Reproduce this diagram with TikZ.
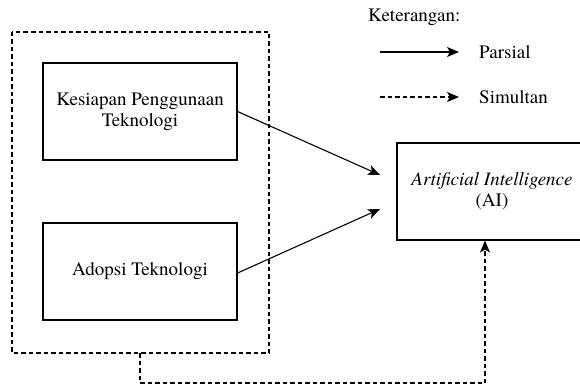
\documentclass[tikz,border=0pt]{standalone}
\usepackage{fontspec}
\setmainfont{TeX Gyre Termes}
\usetikzlibrary{arrows.meta}
\begin{document}
\begin{tikzpicture}[x=1pt,y=-1pt,
  every node/.style={font=\fontsize{19}{21}\selectfont},
  boxstyle/.style={draw, line width=1.1pt, minimum width=194pt, minimum height=97pt, align=center, inner sep=0pt},
  tip/.style={-{Stealth[length=12pt,width=10pt,inset=3pt]}},
  conn/.style={line width=1.1pt, tip},
  dsh/.style={line width=1.1pt, dash pattern=on 4.5pt off 3pt}
]
\useasboundingbox (0,0) rectangle (580,385);
\draw[dsh] (12,32) rectangle (269,353);
\coordinate (outerbot) at (140,353);
\node[boxstyle] (kpt) at (140,111.5) {Kesiapan Penggunaan\\Teknologi};
\node[boxstyle] (adt) at (140,271.5) {Adopsi Teknologi};
\node[boxstyle, minimum width=190pt] (ai) at (492,191.5) {\textit{Artificial Intelligence}\\(AI)};
\coordinate (t1) at (380,175);
\coordinate (t2) at (380,209);
\draw[conn] (kpt.east) -- (t1);
\draw[conn] ([yshift=-1.5pt]adt.east) -- (t2);
\coordinate (c1) at (140,383);
\coordinate (c2) at (485,383);
\draw[dsh, tip] (outerbot) -- (c1) -- (c2) -- (ai.south -| c2);
% legend
\node[anchor=west, inner sep=0pt] (ket) at (368,17) {Keterangan:};
\coordinate (p1) at (380,52);
\coordinate (p2) at (459,52);
\coordinate (s1) at (380,97);
\coordinate (s2) at (459,97);
\draw[conn] (p1) -- (p2);
\draw[dsh, tip] (s1) -- (s2);
\node[anchor=west, inner sep=0pt] (par) at (479,52) {Parsial};
\node[anchor=west, inner sep=0pt] (sim) at (479,97) {Simultan};
\end{tikzpicture}
\end{document}
